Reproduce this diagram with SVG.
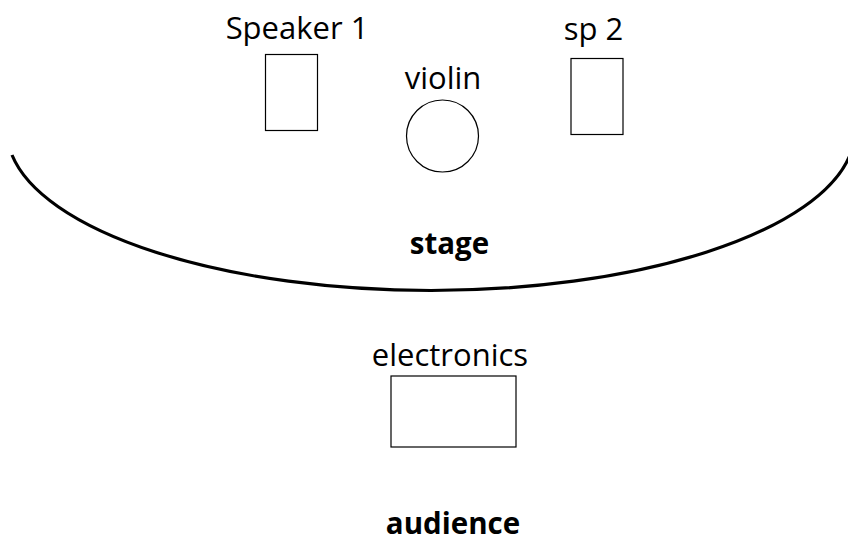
<svg xmlns="http://www.w3.org/2000/svg" width="848" height="543" viewBox="0 0 848 543">
<style>
.box{fill:#fff;stroke:#000;stroke-width:1.2}
.lbl{font-family:"Open Sans","Noto Sans","Liberation Sans",sans-serif;font-size:31px;fill:#000;text-anchor:middle}
.bold{font-weight:bold;font-size:29.5px}
</style>
<rect width="848" height="543" fill="#fff"/>
<g id="stage">
<path d="M12,155 A424,160 0 0 0 850,155" fill="none" stroke="#000" stroke-width="3.2"/>
<text class="lbl bold" x="449.5" y="254">stage</text>
</g>
<g id="speaker1">
<rect class="box" x="265.5" y="54.5" width="52" height="76"/>
<text class="lbl" x="297" y="39">Speaker 1</text>
</g>
<g id="sp2">
<rect class="box" x="571" y="58.5" width="52" height="76"/>
<text class="lbl" x="593.5" y="39.5">sp 2</text>
</g>
<g id="violin">
<circle class="box" cx="442.5" cy="136" r="36"/>
<text class="lbl" x="443" y="89">violin</text>
</g>
<g id="electronics">
<rect class="box" x="391" y="376" width="125" height="71"/>
<text class="lbl" x="450" y="366">electronics</text>
</g>
<g id="audience">
<text class="lbl bold" x="453" y="534">audience</text>
</g>
</svg>
